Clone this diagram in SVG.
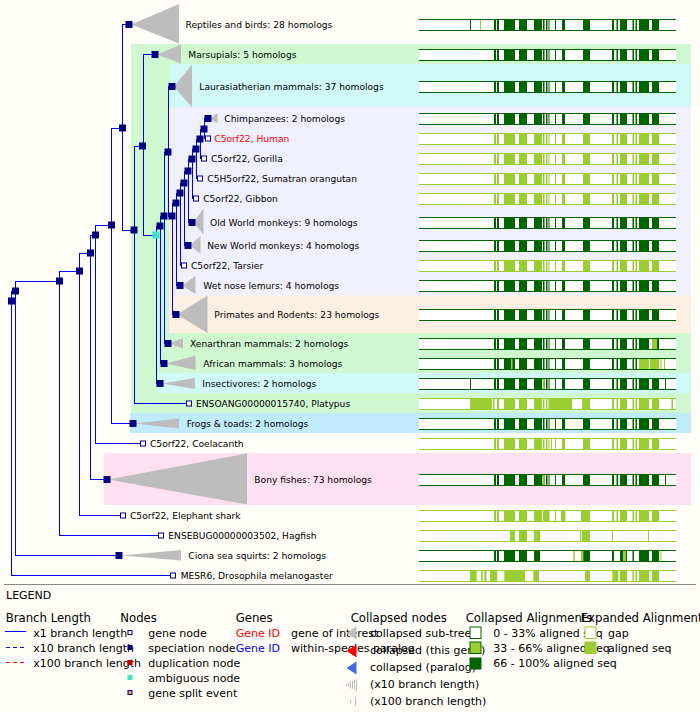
<svg xmlns="http://www.w3.org/2000/svg" xmlns:xlink="http://www.w3.org/1999/xlink" width="700" height="712" viewBox="0 0 700 712">
<style>
.t{font-family:"DejaVu Sans",Verdana,sans-serif;font-size:9.15px;fill:#000}
.lg{font-family:"DejaVu Sans",Verdana,sans-serif;font-size:11px;fill:#000}
.hd{font-family:"DejaVu Sans",Verdana,sans-serif;font-size:11.7px;fill:#000}
.e{fill:none;stroke:#0000ff;stroke-width:1;shape-rendering:crispEdges}
.sp{fill:#000080}
.gn{fill:#fff;stroke:#000080;stroke-width:1}
.tri{fill:#bdbdbd}
.d{fill:#006400}
.g{fill:#9acd32}
</style>
<defs>
<g id="std">
<rect x="494" y="0" width="2" height="12"/><rect x="497" y="0" width="2" height="12"/>
<rect x="504" y="0" width="11" height="12"/><rect x="519" y="0" width="8" height="12"/>
<rect x="534" y="0" width="8" height="12"/><rect x="543" y="0" width="1.5" height="12"/>
<rect x="546" y="0" width="1.5" height="12"/><rect x="548.5" y="0" width="1" height="12"/>
<rect x="555" y="0" width="1" height="12"/><rect x="562" y="0" width="3" height="12"/>
<rect x="583" y="0" width="7" height="12"/><rect x="612" y="0" width="2" height="12"/>
<rect x="616.5" y="0" width="1.5" height="12"/><rect x="620" y="0" width="7" height="12"/>
<rect x="632.5" y="0" width="1.5" height="12"/><rect x="635.5" y="0" width="1.5" height="12"/>
<rect x="639" y="0" width="10" height="12"/><rect x="652" y="0" width="7" height="12"/>
</g>
<g id="frame">
<rect x="419" y="0" width="257" height="1"/><rect x="419" y="11" width="257" height="1"/>
</g>
</defs>
<rect width="700" height="712" fill="#fefdf7"/>
<!-- bands -->
<g id="bands">
<rect x="131" y="44" width="560" height="369" fill="#cff8d0"/>
<rect x="169" y="64" width="522" height="43.5" fill="#cff8f7"/>
<rect x="169" y="107.5" width="522" height="225.5" fill="#fdf0e2"/>
<rect x="172" y="107.5" width="519" height="188" fill="#f0f0fd"/>
<rect x="157" y="373" width="534" height="20" fill="#cff8f7"/>
<rect x="130" y="413" width="561" height="20" fill="#c0ebfc"/>
<rect x="104" y="453" width="587" height="52" fill="#fee0f0"/>
</g>
<!-- connectors -->
<g id="connectors" class="e">
<path d="M11.5,301V291.5H15M11.5,301V575.5H173"/>
<path d="M15.5,291V281.5H59M15.5,291V555.5H119"/>
<path d="M59.5,281V271.5H79M59.5,281V535.5H161"/>
<path d="M79.5,271V253.5H90M79.5,271V515.5H123"/>
<path d="M90.5,253V235.5H95M90.5,253V479.5H107"/>
<path d="M95.5,235V225.5H111M95.5,235V443.5H143"/>
<path d="M111.5,225V128.5H122M111.5,225V423.5H133"/>
<path d="M122.5,128V24.5H129M122.5,128V230.5H134"/>
<path d="M134.5,230V146.5H142M134.5,230V403.5H189"/>
<path d="M143.5,146V54.5H155M143.5,146V235.5H156"/>
<path d="M156.5,235V226.5H160M156.5,235V383.5H160"/>
<path d="M160.5,226V216.5H164M160.5,226V363.5H164"/>
<path d="M164.5,216V152.5H168M164.5,216V343.5H168"/>
<path d="M168.5,152V86.5H172M168.5,152V216.5H172"/>
<path d="M172.5,216V203.5H176M172.5,216V314.5H176"/>
<path d="M176.5,203V193.5H180M176.5,203V285.5H180"/>
<path d="M180.5,193V183.5H184M180.5,193V265.5H184"/>
<path d="M184.5,183V171.5H188M184.5,183V245.5H188"/>
<path d="M188.5,171V159.5H192M188.5,171V222.5H192"/>
<path d="M192.5,159V149.5H196M192.5,159V198.5H196"/>
<path d="M196.5,149V139.5H200M196.5,149V178.5H200"/>
<path d="M200.5,139V129.5H204M200.5,139V158.5H204"/>
<path d="M204.5,129V118.5H208M204.5,129V138.5H208"/>
</g>
<!-- internal nodes -->
<g id="internal">
<rect class="sp" x="8" y="297.5" width="7" height="7"/>
<rect class="sp" x="12" y="287.5" width="7" height="7"/>
<rect class="sp" x="56" y="277.5" width="7" height="7"/>
<rect class="sp" x="76" y="267.5" width="7" height="7"/>
<rect class="sp" x="87" y="249.5" width="7" height="7"/>
<rect class="sp" x="92" y="231.5" width="7" height="7"/>
<rect class="sp" x="108" y="221.5" width="7" height="7"/>
<rect class="sp" x="119" y="124.5" width="7" height="7"/>
<rect class="sp" x="130.5" y="226.5" width="7" height="7"/>
<rect class="sp" x="139" y="142.5" width="7" height="7"/>
<rect x="152.5" y="231.5" width="7" height="7" fill="#40e0d0"/>
<rect class="sp" x="156.5" y="222.5" width="7" height="7"/>
<rect class="sp" x="160.5" y="212.5" width="7" height="7"/>
<rect class="sp" x="164.5" y="148.5" width="7" height="7"/>
<rect class="sp" x="168.5" y="212.5" width="7" height="7"/>
<rect class="sp" x="172.5" y="199.5" width="7" height="7"/>
<rect class="sp" x="176.5" y="189.5" width="7" height="7"/>
<rect class="sp" x="180.5" y="179.5" width="7" height="7"/>
<rect class="sp" x="184.5" y="167.5" width="7" height="7"/>
<rect class="sp" x="188.5" y="155.5" width="7" height="7"/>
<rect class="sp" x="192.5" y="145.5" width="7" height="7"/>
<rect class="sp" x="196.5" y="135.5" width="7" height="7"/>
<rect class="sp" x="200.5" y="125.5" width="7" height="7"/>
</g>
<!-- leaves -->
<g id="n-reptiles"><polygon class="tri" points="131,24.5 179,4 179,43.5"/><rect class="sp" x="125.5" y="21" width="7" height="7"/><text class="t" x="185.5" y="28">Reptiles and birds: 28 homologs</text></g>
<g id="n-marsupials"><polygon class="tri" points="157,54.5 181,44.5 181,63.5"/><rect class="sp" x="151.5" y="51" width="7" height="7"/><text class="t" x="188.3" y="58">Marsupials: 5 homologs</text></g>
<g id="n-laurasiatheria"><polygon class="tri" points="174,86.5 192,64.5 192,107.5"/><rect class="sp" x="168.5" y="83" width="7" height="7"/><text class="t" x="199.3" y="90">Laurasiatherian mammals: 37 homologs</text></g>
<g id="n-chimp"><polygon class="tri" points="210,118.5 217.5,113 217.5,123.5"/><rect class="sp" x="204.5" y="115" width="7" height="7"/><text class="t" x="224.3" y="122">Chimpanzees: 2 homologs</text></g>
<g id="n-human"><rect class="gn" x="205.5" y="136" width="5" height="5"/><text class="t" x="214.3" y="142" style="fill:#ff0000">C5orf22, Human</text></g>
<g id="n-gorilla"><rect class="gn" x="201.5" y="156" width="5" height="5"/><text class="t" x="211" y="162">C5orf22, Gorilla</text></g>
<g id="n-orangutan"><rect class="gn" x="197.5" y="176" width="5" height="5"/><text class="t" x="207.3" y="182">C5H5orf22, Sumatran orangutan</text></g>
<g id="n-gibbon"><rect class="gn" x="193.5" y="196" width="5" height="5"/><text class="t" x="203.2" y="202">C5orf22, Gibbon</text></g>
<g id="n-owm"><polygon class="tri" points="193.5,222.5 203.5,208.5 203.5,234.5"/><rect class="sp" x="188.5" y="219" width="7" height="7"/><text class="t" x="210" y="226">Old World monkeys: 9 homologs</text></g>
<g id="n-nwm"><polygon class="tri" points="190,245.5 200.5,236 200.5,254"/><rect class="sp" x="184.5" y="242" width="7" height="7"/><text class="t" x="207.3" y="249">New World monkeys: 4 homologs</text></g>
<g id="n-tarsier"><rect class="gn" x="181.5" y="263" width="5" height="5"/><text class="t" x="191" y="269">C5orf22, Tarsier</text></g>
<g id="n-lemurs"><polygon class="tri" points="182,285.5 195.5,276 195.5,294"/><rect class="sp" x="176.5" y="282" width="7" height="7"/><text class="t" x="203.3" y="289">Wet nose lemurs: 4 homologs</text></g>
<g id="n-primrod"><polygon class="tri" points="177,314.5 207.5,295.5 207.5,333"/><rect class="sp" x="172.5" y="311" width="7" height="7"/><text class="t" x="214.3" y="318">Primates and Rodents: 23 homologs</text></g>
<g id="n-xenarthra"><polygon class="tri" points="169,343.5 183,338 183,348.5"/><rect class="sp" x="164.5" y="340" width="7" height="7"/><text class="t" x="190" y="347">Xenarthran mammals: 2 homologs</text></g>
<g id="n-african"><polygon class="tri" points="166,363.5 195.5,355.5 195.5,370"/><rect class="sp" x="160.5" y="360" width="7" height="7"/><text class="t" x="203.3" y="367">African mammals: 3 homologs</text></g>
<g id="n-insectivores"><polygon class="tri" points="162,383.5 195,378 195,389"/><rect class="sp" x="156.5" y="380" width="7" height="7"/><text class="t" x="202.3" y="387">Insectivores: 2 homologs</text></g>
<g id="n-platypus"><rect class="gn" x="186.5" y="401" width="5" height="5"/><text class="t" x="196" y="407">ENSOANG00000015740, Platypus</text></g>
<g id="n-frogs"><polygon class="tri" points="135,423.5 179,418.5 179,428.5"/><rect class="sp" x="129.5" y="420" width="7" height="7"/><text class="t" x="186.7" y="427">Frogs &amp; toads: 2 homologs</text></g>
<g id="n-coelacanth"><rect class="gn" x="140.5" y="441" width="5" height="5"/><text class="t" x="150" y="447">C5orf22, Coelacanth</text></g>
<g id="n-bonyfish"><polygon class="tri" points="108,479.5 247,453.5 247,504.5"/><rect class="sp" x="103.5" y="476" width="7" height="7"/><text class="t" x="254.3" y="483">Bony fishes: 73 homologs</text></g>
<g id="n-eshark"><rect class="gn" x="120.5" y="513" width="5" height="5"/><text class="t" x="130" y="519">C5orf22, Elephant shark</text></g>
<g id="n-hagfish"><rect class="gn" x="158.5" y="533" width="5" height="5"/><text class="t" x="168.3" y="539">ENSEBUG00000003502, Hagfish</text></g>
<g id="n-ciona"><polygon class="tri" points="121.5,555.5 181,550 181,560.5"/><rect class="sp" x="115.5" y="552" width="7" height="7"/><text class="t" x="188.3" y="559">Ciona sea squirts: 2 homologs</text></g>
<g id="n-drosophila"><rect class="gn" x="170.5" y="573" width="5" height="5"/><text class="t" x="180.7" y="579">MESR6, Drosophila melanogaster</text></g>
<!-- alignments -->
<g id="alignments">
<g class="d" transform="translate(0,19)"><rect x="419" width="257" height="12" fill="#fff"/><use href="#std"/><rect x="470" width="1" height="12"/><rect x="480" width="1" height="12" fill="#9acd32"/><use href="#frame"/></g>
<g class="d" transform="translate(0,49)"><rect x="419" width="257" height="12" fill="#fff"/><use href="#std"/><use href="#frame"/></g>
<g class="d" transform="translate(0,81)"><rect x="419" width="257" height="12" fill="#fff"/><use href="#std"/><use href="#frame"/></g>
<g class="d" transform="translate(0,113)"><rect x="419" width="257" height="12" fill="#fff"/><use href="#std"/><use href="#frame"/></g>
<g class="g" transform="translate(0,133)"><rect x="419" width="257" height="12" fill="#fff"/><use href="#std"/><use href="#frame"/></g>
<g class="g" transform="translate(0,153)"><rect x="419" width="257" height="12" fill="#fff"/><use href="#std"/><use href="#frame"/></g>
<g class="g" transform="translate(0,173)"><rect x="419" width="257" height="12" fill="#fff"/><use href="#std"/><use href="#frame"/></g>
<g class="g" transform="translate(0,193)"><rect x="419" width="257" height="12" fill="#fff"/><use href="#std"/><use href="#frame"/></g>
<g class="d" transform="translate(0,217)"><rect x="419" width="257" height="12" fill="#fff"/><use href="#std"/><use href="#frame"/></g>
<g class="d" transform="translate(0,240)"><rect x="419" width="257" height="12" fill="#fff"/><use href="#std"/><use href="#frame"/></g>
<g class="g" transform="translate(0,260)"><rect x="419" width="257" height="12" fill="#fff"/><use href="#std"/><use href="#frame"/></g>
<g class="d" transform="translate(0,280)"><rect x="419" width="257" height="12" fill="#fff"/><use href="#std"/><use href="#frame"/></g>
<g class="d" transform="translate(0,309)"><rect x="419" width="257" height="12" fill="#fff"/><use href="#std"/><use href="#frame"/></g>
<g class="d" transform="translate(0,338)"><rect x="419" width="257" height="12" fill="#fff"/><use href="#std"/><rect x="652" width="5" height="12" fill="#9acd32"/><use href="#frame"/></g>
<g class="d" transform="translate(0,358)"><rect x="419" width="257" height="12" fill="#fff"/><use href="#std"/><rect x="511" width="1.5" height="12" fill="#9acd32"/><rect x="639" width="10" height="12" fill="#9acd32"/><rect x="650" width="9" height="12" fill="#9acd32"/><rect x="660.5" width="1" height="12" fill="#9acd32"/><rect x="664" width="1" height="12" fill="#9acd32"/><use href="#frame"/></g>
<g class="d" transform="translate(0,378)"><rect x="419" width="257" height="12" fill="#fff"/><use href="#std"/><rect x="470" width="1" height="12"/><rect x="542.5" width="1.5" height="12" fill="#9acd32"/><rect x="665" width="1" height="12"/><use href="#frame"/></g>
<g class="g" transform="translate(0,398)"><rect x="419" width="257" height="12" fill="#fff"/>
<rect x="470" width="22" height="12"/><rect x="493" width="1.5" height="12"/><rect x="497" width="2" height="12"/><rect x="504" width="11" height="12"/><rect x="519" width="8" height="12"/><rect x="534" width="8" height="12"/><rect x="543" width="1.5" height="12"/><rect x="546" width="1.5" height="12"/><rect x="548.5" width="23.5" height="12"/><rect x="582" width="8" height="12"/><rect x="612" width="2" height="12"/><rect x="616.5" width="1.5" height="12"/><rect x="620" width="7" height="12"/><rect x="632.5" width="1.5" height="12"/><rect x="635.5" width="1.5" height="12"/><rect x="639" width="10" height="12"/><rect x="652" width="7" height="12"/><rect x="671.5" width="1.5" height="12"/>
<use href="#frame"/></g>
<g class="d" transform="translate(0,418)"><rect x="419" width="257" height="12" fill="#fff"/><use href="#std"/><use href="#frame"/></g>
<g class="g" transform="translate(0,438)"><rect x="419" width="257" height="12" fill="#fff"/><use href="#std"/><rect x="551" width="1" height="12"/><use href="#frame"/></g>
<g class="d" transform="translate(0,474)"><rect x="419" width="257" height="12" fill="#fff"/><use href="#std"/><rect x="542" width="2" height="12" fill="#9acd32"/><rect x="665" width="1" height="12"/><use href="#frame"/></g>
<g class="g" transform="translate(0,510)"><rect x="419" width="257" height="12" fill="#fff"/><use href="#std"/><rect x="544" width="5" height="12"/><rect x="561" width="4.5" height="12"/><rect x="581" width="9" height="12"/><use href="#frame"/></g>
<g class="g" transform="translate(0,530)"><rect x="419" width="257" height="12" fill="#fff"/>
<rect x="510" width="5" height="12"/><rect x="519" width="8" height="12"/><rect x="534" width="6" height="12"/><rect x="580" width="1" height="12"/><rect x="582" width="8" height="12"/><rect x="612" width="1" height="12"/><rect x="648" width="1" height="12"/>
<use href="#frame"/></g>
<g class="d" transform="translate(0,550)"><rect x="419" width="257" height="12" fill="#fff"/>
<rect x="494" width="2" height="12"/><rect x="497" width="2" height="12"/><rect x="504" width="11" height="12"/><rect x="519" width="8" height="12"/><rect x="534" width="6" height="12"/><rect x="573.3" width="1.5" height="12" fill="#9acd32"/><rect x="581" width="2.3" height="12" fill="#9acd32"/><rect x="583.3" width="6.7" height="12"/><rect x="612" width="2" height="12"/><rect x="620" width="3.3" height="12"/><rect x="623.3" width="2.7" height="12" fill="#9acd32"/><rect x="626" width="1" height="12"/><rect x="632.5" width="1.5" height="12"/><rect x="639" width="10" height="12"/><rect x="652" width="7" height="12"/><rect x="660.5" width="1" height="12" fill="#9acd32"/>
<use href="#frame"/></g>
<g class="g" transform="translate(0,570)"><rect x="419" width="257" height="12" fill="#fff"/>
<rect x="470" width="6.7" height="12"/><rect x="481" width="1.7" height="12"/><rect x="484.3" width="2.3" height="12"/><rect x="490" width="7.3" height="12"/><rect x="504.3" width="20.7" height="12"/><rect x="533.3" width="5.7" height="12"/><rect x="585" width="5" height="12"/><rect x="612.3" width="6" height="12"/><rect x="620" width="7" height="12"/><rect x="632.5" width="1.5" height="12"/><rect x="635.5" width="1.5" height="12"/><rect x="639" width="10" height="12"/><rect x="652" width="7" height="12"/>
<use href="#frame"/></g>
</g>
<!-- separator -->
<rect x="4" y="584" width="692" height="1" fill="#888"/>
<!-- legend -->
<g id="legend">
<text class="lg" x="6" y="599">LEGEND</text>
<text class="hd" x="5.7" y="621.5">Branch Length</text>
<line x1="5" y1="631.5" x2="26" y2="631.5" stroke="#0000ff" shape-rendering="crispEdges"/>
<line x1="6" y1="647.5" x2="26" y2="647.5" stroke="#0000ff" stroke-dasharray="4,3" shape-rendering="crispEdges"/>
<line x1="6" y1="662.5" x2="26" y2="662.5" stroke="#ff0000" stroke-dasharray="4,3" shape-rendering="crispEdges"/>
<text class="lg" x="33.3" y="636.5">x1 branch length</text>
<text class="lg" x="33.3" y="651.5">x10 branch length</text>
<text class="lg" x="33.3" y="666.5">x100 branch length</text>
<text class="hd" x="120.3" y="621.5">Nodes</text>
<rect class="gn" x="128" y="630.5" width="4" height="4"/>
<rect x="127.5" y="645" width="5" height="5" fill="#000080"/>
<rect x="127.5" y="660" width="5" height="5" fill="#c00000"/>
<rect x="127.5" y="675" width="5" height="5" fill="#40e0d0"/>
<rect x="128" y="690.5" width="4" height="4" fill="#f0a060" stroke="#000080"/>
<text class="lg" x="148.3" y="636.5">gene node</text>
<text class="lg" x="148.3" y="651.5">speciation node</text>
<text class="lg" x="148.3" y="666.5">duplication node</text>
<text class="lg" x="148.3" y="681.5">ambiguous node</text>
<text class="lg" x="148.3" y="696.5">gene split event</text>
<text class="hd" x="235.7" y="621.5">Genes</text>
<text class="lg" x="235.7" y="636.5" style="fill:#ff0000">Gene ID</text>
<text class="lg" x="235.7" y="651.5" style="fill:#0000ff">Gene ID</text>
<text class="lg" x="291" y="636.5">gene of interest</text>
<text class="lg" x="291" y="651.5">within-species paralog</text>
<text class="hd" x="350.7" y="621.5">Collapsed nodes</text>
<polygon points="346.5,633 356.5,626.5 356.5,639.5" fill="#bdbdbd"/>
<polygon points="346.5,651 356.5,644.5 356.5,657.5" fill="#ff0000"/>
<polygon points="346.5,668 356.5,661.5 356.5,674.5" fill="#4169e1"/>
<g stroke="#bbb" stroke-width="1">
<line x1="346.5" y1="684" x2="346.5" y2="686"/><line x1="348.5" y1="683" x2="348.5" y2="687"/><line x1="350.5" y1="681.5" x2="350.5" y2="688.5"/><line x1="352.5" y1="681" x2="352.5" y2="689"/><line x1="354.5" y1="680" x2="354.5" y2="690"/><line x1="356.5" y1="679" x2="356.5" y2="691"/>
<line x1="350.5" y1="700" x2="350.5" y2="703"/><line x1="355.5" y1="697" x2="355.5" y2="706"/>
</g>
<text class="lg" x="370" y="636.5">collapsed sub-tree</text>
<text class="lg" x="370" y="653.5">collapsed (this gene)</text>
<text class="lg" x="370" y="670.5">collapsed (paralog)</text>
<text class="lg" x="370" y="687.5">(x10 branch length)</text>
<text class="lg" x="370" y="704.5">(x100 branch length)</text>
<text class="hd" x="465.7" y="621.5">Collapsed Alignments</text>
<rect x="470" y="627" width="11" height="11.5" fill="#fff" stroke="#006400"/>
<rect x="470" y="642" width="11" height="11.5" fill="#9acd32" stroke="#006400"/>
<rect x="469.5" y="657.5" width="12" height="12" fill="#006400"/>
<text class="lg" x="493.3" y="636.5">0 - 33% aligned seq</text>
<text class="lg" x="493.3" y="651.5">33 - 66% aligned seq</text>
<text class="lg" x="493.3" y="666.5">66 - 100% aligned seq</text>
<text class="hd" x="580.7" y="621.5">Expanded Alignments</text>
<rect x="585" y="627" width="11" height="11.5" fill="#fff" stroke="#9acd32"/>
<rect x="584.5" y="641.5" width="12" height="12.5" fill="#9acd32"/>
<text class="lg" x="608" y="636.5">gap</text>
<text class="lg" x="608" y="651.5">aligned seq</text>
</g>
</svg>
